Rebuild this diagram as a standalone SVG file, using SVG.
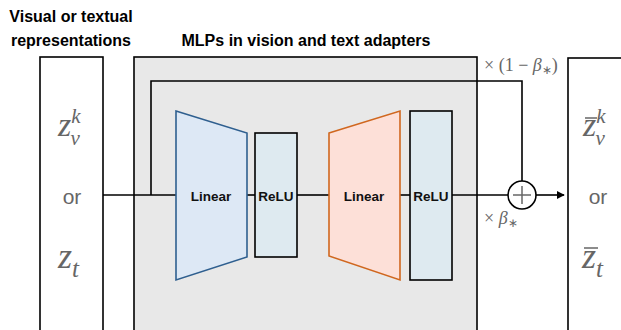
<svg xmlns="http://www.w3.org/2000/svg" width="621" height="330" viewBox="0 0 621 330">
<defs>
<style>
.title{font-family:"Liberation Sans",Arial,sans-serif;font-weight:bold;font-size:16px;fill:#000}
.lbl{font-family:"Liberation Sans",Arial,sans-serif;font-weight:bold;font-size:13.5px;fill:#111}
.math{font-family:"Liberation Serif","Times New Roman",serif;font-style:italic;fill:#666}
.or{font-family:"Liberation Sans",Arial,sans-serif;font-size:21px;fill:#666}
.coef{font-family:"Liberation Serif","Times New Roman",serif;font-size:18px;fill:#666}
.ln{stroke:#000;stroke-width:1.6;fill:none}
</style>
<marker id="arr" viewBox="0 0 10 10" refX="9" refY="5" markerWidth="8" markerHeight="8" markerUnits="userSpaceOnUse" orient="auto">
<path d="M0,0 L10,5 L0,10 z" fill="#000"/>
</marker>
</defs>
<rect width="621" height="330" fill="#fff"/>
<text class="title" x="71" y="22" text-anchor="middle">Visual or textual</text>
<text class="title" x="71" y="46" text-anchor="middle">representations</text>
<text class="title" x="306" y="46" text-anchor="middle">MLPs in vision and text adapters</text>

<g id="input">
<rect x="40" y="57" width="63" height="290" fill="#fff" stroke="#000" stroke-width="1.6"/>
<text class="math" x="58" y="136" font-size="34">z<tspan font-size="21" dy="-13">k</tspan><tspan font-size="21" dx="-10" dy="22">v</tspan></text>
<text class="or" x="72" y="204" text-anchor="middle">or</text>
<text class="math" x="58" y="268" font-size="36">z<tspan font-size="25" dy="9">t</tspan></text>
</g>

<g id="adapter">
<rect x="134" y="57" width="343" height="290" fill="#e8e8e8" stroke="#000" stroke-width="1.6"/>
</g>

<g id="output">
<rect x="568" y="58" width="70" height="290" fill="#fff" stroke="#000" stroke-width="1.6"/>
<text class="math" x="583" y="136" font-size="34">z<tspan font-size="21" dy="-13">k</tspan><tspan font-size="21" dx="-10" dy="22">v</tspan></text>
<line x1="585" y1="118" x2="597" y2="118" stroke="#666" stroke-width="1.5"/>
<text class="or" x="598" y="204" text-anchor="middle">or</text>
<text class="math" x="582" y="268" font-size="36">z<tspan font-size="25" dy="9">t</tspan></text>
<line x1="584" y1="248" x2="598" y2="248" stroke="#666" stroke-width="1.5"/>
</g>

<g id="connectors">
<line class="ln" x1="103" y1="195" x2="176" y2="195"/>
<polyline class="ln" points="151,195 151,81 522,81 522,181"/>
<line class="ln" x1="247" y1="195" x2="255" y2="195"/>
<line class="ln" x1="297" y1="195" x2="329" y2="195"/>
<line class="ln" x1="400" y1="195" x2="410" y2="195"/>
<line class="ln" x1="452" y1="195" x2="508" y2="195"/>
<line class="ln" x1="536" y1="195" x2="564" y2="195" marker-end="url(#arr)"/>
</g>

<g id="linear1">
<polygon points="176,111 247,133 247,257 176,280" fill="#dde8f5" stroke="#2f5f8f" stroke-width="1.6"/>
<text class="lbl" x="211" y="201" text-anchor="middle">Linear</text>
</g>
<g id="relu1">
<rect x="255" y="133" width="42" height="124" fill="#deeaf0" stroke="#000" stroke-width="1.6"/>
<text class="lbl" x="276" y="201" text-anchor="middle">ReLU</text>
</g>
<g id="linear2">
<polygon points="329,133 400,111 400,280 329,256" fill="#fde0d8" stroke="#d0671f" stroke-width="1.6"/>
<text class="lbl" x="364" y="201" text-anchor="middle">Linear</text>
</g>
<g id="relu2">
<rect x="410" y="111" width="42" height="169" fill="#deeaf0" stroke="#000" stroke-width="1.6"/>
<text class="lbl" x="431" y="201" text-anchor="middle">ReLU</text>
</g>

<g id="sum">
<circle cx="522" cy="195" r="14" fill="#fff" stroke="#000" stroke-width="1.6"/>
<line x1="513" y1="195" x2="531" y2="195" stroke="#666" stroke-width="1.5"/>
<line x1="522" y1="186" x2="522" y2="204" stroke="#666" stroke-width="1.5"/>
</g>

<text class="coef" x="484" y="71">× (1 − <tspan font-style="italic">β</tspan><tspan font-size="12" dy="3">∗</tspan><tspan dy="-3">)</tspan></text>
<text class="coef" x="484" y="224">× <tspan font-style="italic">β</tspan><tspan font-size="12" dy="3">∗</tspan></text>
</svg>
